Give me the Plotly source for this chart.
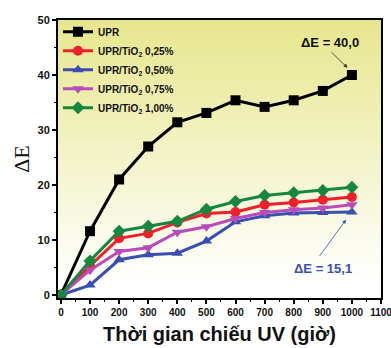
import plotly.graph_objects as go

hours = [0, 100, 200, 300, 400, 500, 600, 700, 800, 900, 1000]
upr = [0, 11.6, 21.0, 27.0, 31.4, 33.1, 35.4, 34.2, 35.4, 37.1, 40.0]
tio2_025 = [0, 5.3, 10.3, 11.2, 13.2, 14.8, 15.1, 16.4, 16.8, 17.3, 17.8]
tio2_050 = [0, 1.8, 6.4, 7.3, 7.6, 9.8, 13.3, 14.4, 14.9, 15.0, 15.1]
tio2_075 = [0, 4.5, 7.9, 8.6, 11.4, 12.4, 13.9, 15.0, 15.5, 15.8, 16.4]
tio2_100 = [0, 6.2, 11.6, 12.5, 13.4, 15.6, 17.0, 18.1, 18.6, 19.0, 19.6]

series = [
    ("UPR", upr, "#000000", "square"),
    ("UPR/TiO<sub>2</sub> 0,25%", tio2_025, "#f0202a", "circle"),
    ("UPR/TiO<sub>2</sub> 0,50%", tio2_050, "#3a4fb0", "triangle-up"),
    ("UPR/TiO<sub>2</sub> 0,75%", tio2_075, "#b84cb8", "triangle-down"),
    ("UPR/TiO<sub>2</sub> 1,00%", tio2_100, "#16873e", "diamond"),
]

fig = go.Figure()
for name, vals, col, sym in series:
    fig.add_trace(go.Scatter(
        x=hours, y=vals, name=name, mode="lines+markers",
        line=dict(color=col, width=3),
        marker=dict(symbol=sym, size=10, color=col),
    ))

# gradient background (yellow top -> white bottom)
n = 60
top = (230, 230, 140)
for i in range(n):
    y0 = i / n
    y1 = (i + 1) / n
    t = max(0.0, (y0 - 0.05) / 0.95)
    c = tuple(int(round(255 + (tc - 255) * t)) for tc in top)
    fig.add_shape(type="rect", xref="x domain", yref="y domain",
                  x0=0, x1=1, y0=y0, y1=y1 + 0.002, layer="below",
                  line=dict(width=0), fillcolor="rgb(%d,%d,%d)" % c)

fig.add_annotation(x=985, y=41.3, ax=925, ay=44.4, xref="x", yref="y",
                   axref="x", ayref="y", text="", showarrow=True,
                   arrowhead=2, arrowsize=1, arrowwidth=0.8, arrowcolor="#333333")
fig.add_annotation(x=925, y=45.9, text="ΔE = 40,0", showarrow=False,
                   font=dict(family="Liberation Sans", size=13, color="#111111", weight="bold"))
fig.add_annotation(x=980, y=13.7, ax=885, ay=6.8, xref="x", yref="y",
                   axref="x", ayref="y", text="", showarrow=True,
                   arrowhead=2, arrowsize=1, arrowwidth=0.8, arrowcolor="#3a4fb0")
fig.add_annotation(x=900, y=4.9, text="ΔE = 15,1", showarrow=False,
                   font=dict(family="Liberation Sans", size=13, color="#3a4fb0", weight="bold"))

fig.update_layout(
    width=391, height=348,
    margin=dict(l=58, r=10, t=20, b=50),
    paper_bgcolor="white", plot_bgcolor="white",
    showlegend=True,
    legend=dict(x=0.0, y=1.01, xanchor="left", yanchor="top",
                bgcolor="rgba(0,0,0,0)", borderwidth=0,
                font=dict(family="Liberation Sans", size=10, color="#111111", weight="bold"),
                itemwidth=30, tracegroupgap=4),
    xaxis=dict(range=[-10, 1100], tickvals=list(range(0, 1101, 100)), automargin=False,
               ticklabeloverflow="allow",
               showgrid=False, zeroline=False, showline=True, linecolor="black",
               linewidth=2, mirror=True, ticks="outside", ticklen=4, tickwidth=1.5,
               tickcolor="black",
               minor=dict(ticks="outside", ticklen=2, tickwidth=1, dtick=50, tick0=0, tickcolor="black"),
               tickfont=dict(family="Liberation Sans", size=10, color="#111111", weight="bold"),
               title=dict(text="Thời gian chiếu UV (giờ)", standoff=10,
                          font=dict(family="Liberation Sans", size=20, color="#111111", weight="bold"))),
    yaxis=dict(range=[-0.55, 50], tickvals=[0, 10, 20, 30, 40, 50], automargin=False,
               showgrid=False, zeroline=False, showline=True, linecolor="black",
               linewidth=2, mirror=True, ticks="outside", ticklen=4, tickwidth=1.5,
               tickcolor="black",
               minor=dict(ticks="outside", ticklen=2, tickwidth=1, dtick=5, tick0=0, tickcolor="black"),
               tickfont=dict(family="Liberation Sans", size=11, color="#111111", weight="bold"),
               title=dict(text="ΔE", standoff=2,
                          font=dict(family="Liberation Serif", size=22, color="#111111"))),
)

fig.write_html("out.html")
